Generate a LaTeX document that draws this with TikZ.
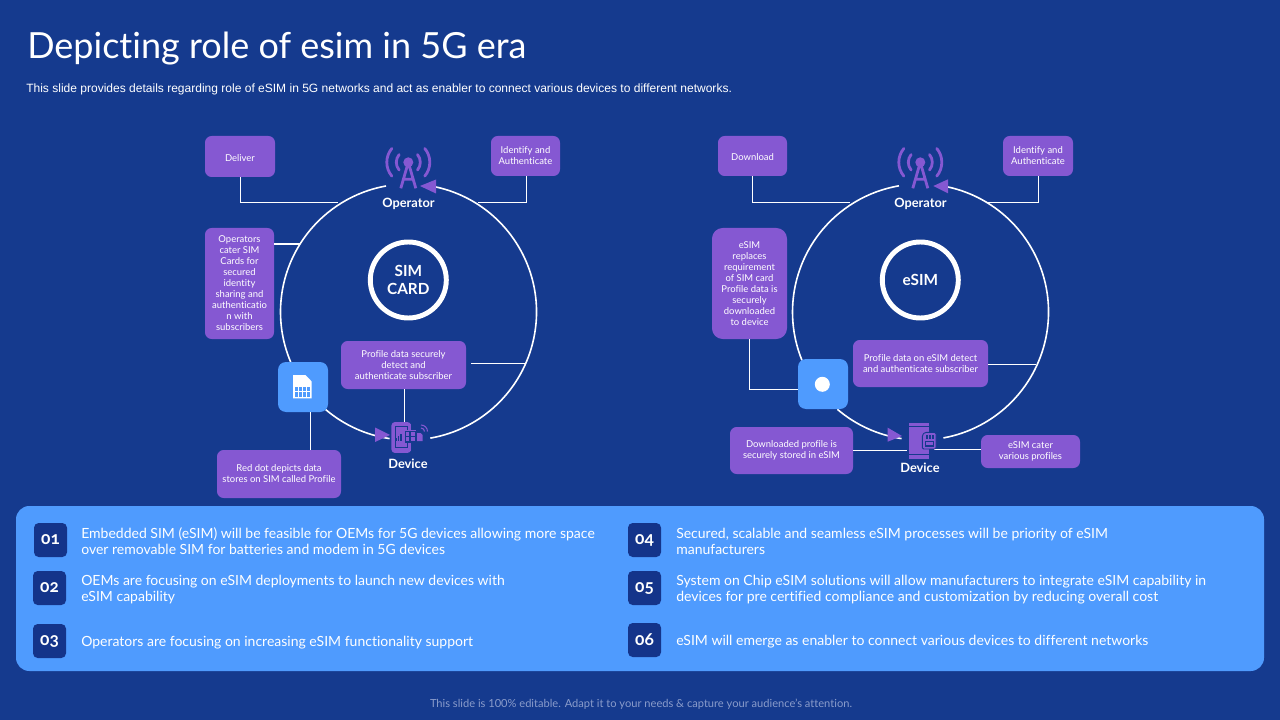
\documentclass[tikz,border=0pt]{standalone}
\usepackage{fontspec}
\setmainfont[Ligatures=NoCommon]{Lato}
\newfontfamily\subfont{Liberation Sans}
\newfontfamily\numfont[Numbers=OldStyle]{Lato}
\definecolor{bg}{HTML}{153A8E}
\definecolor{pur}{HTML}{8558D2}
\definecolor{sky}{HTML}{4F9BFE}
\definecolor{navy}{HTML}{14348A}
\definecolor{foot}{HTML}{8A9CCB}
\tikzset{
  box/.style={fill=pur,text=white,rounded corners=5pt,inner sep=0pt,align=center,font=\fontsize{7.1}{8.25}\selectfont,execute at begin node={\rule{0pt}{7.3pt}}},
  link/.style={draw=white,line width=0.85pt},
  ring/.style={draw=white,line width=1.2pt},
  tip/.style={fill=pur},
  capt/.style={text=white,inner sep=0pt,font=\bfseries\fontsize{9.6}{11}\selectfont},
  hub/.style={circle,draw=white,line width=3.7pt,minimum size=57pt,inner sep=0pt,text=white,align=center,font=\bfseries\fontsize{11.5}{13.4}\selectfont},
  numbox/.style={fill=navy,text=white,rounded corners=3.5pt,inner sep=0pt,font=\bfseries\fontsize{13}{14}\selectfont\numfont},
  item/.style={anchor=west,text=white,inner sep=0pt,align=left,font=\fontsize{10.5}{12}\selectfont},
  tile/.style={fill=sky,rounded corners=6pt,inner sep=0pt},
  wave/.style={draw=pur,line width=2.1pt,line cap=round}
}
\newcommand{\rbox}[6][box]{\node[#1,minimum width={(#4-#2)*0.75pt},minimum height={(#5-#3)*0.75pt}] (#6) at ({(#2+#4)/2},{(#3+#5)/2})}
\newcommand{\antenna}[2]{\begin{scope}[shift={(#1,#2)}]
  \fill[pur] (0,0) circle (5);
  \draw[wave,line cap=butt,line join=round] (-7.5,26) -- (0,0) -- (7.5,26) (-4.6,17) -- (4.6,17);
  \draw[wave] (-40:12) arc[start angle=-40,end angle=40,radius=12];
  \draw[wave] (-40:21.5) arc[start angle=-40,end angle=40,radius=21.5];
  \draw[wave] (140:12) arc[start angle=140,end angle=220,radius=12];
  \draw[wave] (140:21.5) arc[start angle=140,end angle=220,radius=21.5];
\end{scope}}
\begin{document}
\begin{tikzpicture}[x=0.75pt,y=-0.75pt]
\useasboundingbox (0,0) rectangle (1280,720);
\fill[bg] (0,0) rectangle (1280,720);
\node[anchor=west,text=white,inner sep=0pt,font=\fontsize{27}{32}\selectfont] (title) at (27,48.7) {Depicting role of esim in 5G era};
\node[anchor=west,text=white,inner sep=0pt,font=\subfont\fontsize{9.02}{10}\selectfont] (subtitle) at (26,89) {This slide provides details regarding role of eSIM in 5G networks and act as enabler to connect various devices to different networks.};
% left diagram
\coordinate (cL) at (408.5,312);
\draw[ring] ([shift={(cL)}]-78:128) arc[start angle=-78,end angle=80.2,radius=128];
\draw[ring] ([shift={(cL)}]98.5:128) arc[start angle=98.5,end angle=130.4,radius=128];
\draw[ring] ([shift={(cL)}]157:128) arc[start angle=157,end angle=259.9,radius=128];
\fill[tip] (420,186) -- (436,179.5) -- (436,193.5) -- cycle;
\fill[tip] (390,435) -- (375,427.5) -- (375,442) -- cycle;
\antenna{408.3}{162.3}
\node[capt] (opL) at (408.5,203.6) {Operator};
\node[capt] (devL) at (408,464.2) {Device};
\node[hub] (hubL) at (408.3,280) {SIM\\CARD};
\rbox{205}{136}{275}{177}{deliver} {Deliver};
\rbox{491}{136}{560}{176}{idL} {Identify and\\Authenticate};
\rbox{205}{228}{274}{339}{opsL} {Operators\\cater SIM\\Cards for\\secured\\identity\\sharing and\\authenticatio\\n with\\subscribers};
\rbox{341}{341}{466}{389}{profL} {Profile data securely\\detect and\\authenticate subscriber};
\rbox{217}{450}{341}{498}{redL} {Red dot depicts data\\stores on SIM called Profile};
\rbox[tile]{278}{362}{328}{412}{simL} {};
\fill[white] (293,375) -- (305.5,375) -- (311.7,381.5) -- (311.7,398.3) -- (293,398.3) -- cycle;
\fill[sky] (295.3,386.5) rectangle (309.5,396.5);
\draw[white,line width=0.5pt] (298.8,386.5) -- (298.8,396.5) (302.4,386.5) -- (302.4,396.5) (306,386.5) -- (306,396.5) (295.3,391.5) -- (309.5,391.5);
\coordinate (dLa) at (338,202.3);
\coordinate (dLb) at (477.7,202.3);
\coordinate (dLc) at (300,244);
\coordinate (dLd) at (471,363.3);
\coordinate (dLe) at (525,363.3);
\coordinate (dLf) at (404.3,422);
\coordinate (dLg) at (310.3,412);
\draw[link] (deliver.south -| 240.5,0) |- (dLa);
\draw[link] (idL.south -| 526.7,0) |- (dLb);
\draw[link] (opsL.east |- dLc) -- (dLc);
\draw[link] (dLd) -- (dLe);
\draw[link] (profL.south -| dLf) -- (dLf);
\draw[link] (dLg) -- (redL.north -| dLg);
% device icon left
\fill[pur] (391.7,424) rectangle (410.7,451);
\draw[pur,line width=1.4pt,rounded corners=2pt] (392.4,423) rectangle (410,452);
\draw[bg,line width=0.6pt] (395.5,426) rectangle (407,447.5);
\draw[bg,line width=0.8pt] (396,438) -- (396,441) (398.5,436) -- (398.5,441) (401,434) -- (401,441);
\fill[pur] (404,430) rectangle (416,443);
\draw[bg,line width=0.8pt] (405.5,431.5) rectangle (416,442) (410,431.5) -- (410,442) (405.5,436.7) -- (416,436.7);
\fill[pur] (417,433) -- (420.5,433) -- (422.5,435) -- (422.5,441) -- (417,441) -- cycle;
\draw[pur,line width=0.8pt] (421,428) arc[start angle=-90,end angle=0,radius=3.5];
\draw[pur,line width=0.8pt] (421,425) arc[start angle=-90,end angle=0,radius=6.5];
% right diagram
\coordinate (cR) at (920.5,312);
\draw[ring] ([shift={(cR)}]-78:128) arc[start angle=-78,end angle=79.7,radius=128];
\draw[ring] ([shift={(cR)}]98.5:128) arc[start angle=98.5,end angle=130.5,radius=128];
\draw[ring] ([shift={(cR)}]157.8:128) arc[start angle=157.8,end angle=260.3,radius=128];
\fill[tip] (933.3,186) -- (948,179.3) -- (948,193.3) -- cycle;
\fill[tip] (902,436) -- (887.7,427.7) -- (887.7,441.7) -- cycle;
\antenna{920.3}{162.3}
\node[capt] (opR) at (920.5,203.6) {Operator};
\node[capt] (devR) at (920,468.2) {Device};
\node[hub] (hubR) at (920.3,280) {eSIM};
\rbox{718}{136}{787}{176}{download} {Download};
\rbox{1003}{136}{1073}{176}{idR} {Identify and\\Authenticate};
\rbox[box,rounded corners=8pt]{712}{228}{787}{339}{replR} {eSIM\\replaces\\requirement\\of SIM card\\Profile data is\\securely\\downloaded\\to device};
\rbox{853}{340}{988}{387}{profR} {Profile data on eSIM detect\\and authenticate subscriber};
\rbox{730}{427}{853}{474}{storeR} {Downloaded profile is\\securely stored in eSIM};
\rbox{981}{435}{1080}{468}{catR} {eSIM cater\\various profiles};
\rbox[tile]{798}{359}{848}{409}{simR} {};
\fill[white] (822.3,384.3) circle (7.5);
\coordinate (dRa) at (850,202.3);
\coordinate (dRb) at (988,202.3);
\coordinate (dRc) at (1036,364.3);
\coordinate (dRd) at (907,450.7);
\coordinate (dRe) at (934,449.3);
\coordinate (dRf) at (749.3,389.3);
\draw[link] (download.south -| 752.3,0) |- (dRa);
\draw[link] (idR.south -| 1038.7,0) |- (dRb);
\draw[link] (replR.south -| dRf) |- (simR.west |- dRf);
\draw[link] (profR.east |- dRc) -- (dRc);
\draw[link] (storeR.east |- dRd) -- (dRd);
\draw[link] (dRe) -- (catR.west |- dRe);
% device icon right
\fill[pur] (909,423.3) rectangle (929.3,458.8);
\draw[bg,line width=0.6pt] (909,426.5) -- (929.3,426.5) (909,454.5) -- (929.3,454.5);
\fill[pur,draw=bg,line width=0.7pt,rounded corners=1pt] (922.3,435) -- (925,432.3) -- (936,432.3) -- (936,449) -- (922.3,449) -- cycle;
\draw[bg,line width=0.9pt] (925.5,441.5) rectangle (933.5,446) (927,435) -- (927,439) (930,435) -- (930,439) (933,435) -- (933,439);
% bottom panel
\node[fill=sky,rounded corners=10pt,inner sep=0pt,minimum width=936pt,minimum height=123.75pt] (panel) at (640,588.5) {};
\rbox[numbox]{34}{523}{67}{557}{n1} {01};
\rbox[numbox]{33}{571}{66}{605}{n2} {02};
\rbox[numbox]{33}{624}{66}{658}{n3} {03};
\rbox[numbox]{628}{523}{661}{557}{n4} {04};
\rbox[numbox]{628}{571}{661}{605}{n5} {05};
\rbox[numbox]{628}{623}{661}{657}{n6} {06};
\node[item] (t1) at (81,541) {Embedded SIM (eSIM) will be feasible for OEMs for 5G devices allowing more space\\over removable SIM for batteries and modem in 5G devices};
\node[item] (t2) at (81,589.5) {OEMs are focusing on eSIM deployments to launch new devices with\\eSIM capability};
\node[item] (t3) at (81,642.5) {Operators are focusing on increasing eSIM functionality support};
\node[item] (t4) at (676,541) {Secured, scalable and seamless eSIM processes will be priority of eSIM\\manufacturers};
\node[item] (t5) at (676,589.5) {System on Chip eSIM solutions will allow manufacturers to integrate eSIM capability in\\devices for pre certified compliance and customization by reducing overall cost};
\node[item] (t6) at (676,642) {eSIM will emerge as enabler to connect various devices to different networks};
\node[text=foot,inner sep=0pt,font=\fontsize{8.33}{10}\selectfont] (footer) at (641,704) {This slide is 100\% editable. Adapt it to your needs \& capture your audience's attention.};
\end{tikzpicture}
\end{document}
